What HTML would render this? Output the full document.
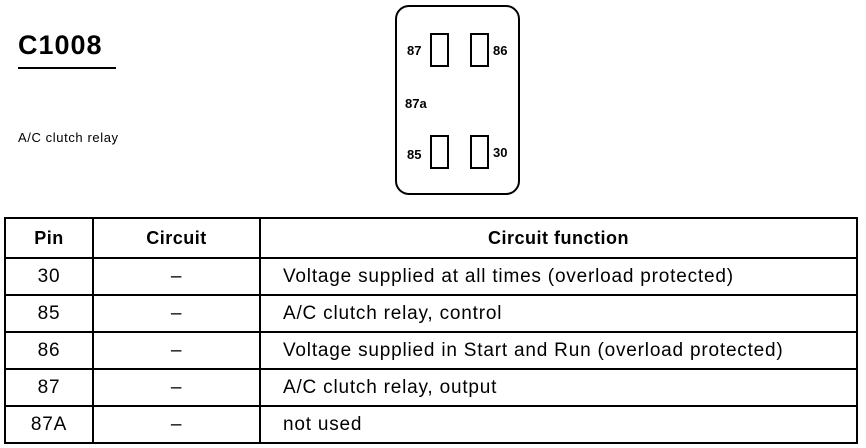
<!DOCTYPE html>
<html><head><style>
body{margin:0;width:866px;height:448px;background:#fff;position:relative;font-family:"Liberation Sans",sans-serif;color:#000;overflow:hidden}
.a{position:absolute}
table{position:absolute;left:4px;top:217px;border-collapse:collapse;width:854px}
td{border:2px solid #000;height:35px;font-size:19px;letter-spacing:0.8px;padding:0;text-align:center}
td.f{text-align:left;padding-left:22px}
th{border:2px solid #000;height:36px;font-size:18px;font-weight:bold;letter-spacing:0.5px}
.t{position:absolute;width:15px;height:30px;border:2px solid #000;}
.l{position:absolute;font-size:13px;font-weight:bold}
</style></head><body>
<div class="a" style="left:18px;top:30px;font-size:27px;font-weight:bold;letter-spacing:1px">C1008</div>
<div class="a" style="left:18px;top:67px;width:98px;height:2px;background:#000"></div>
<div class="a" style="left:18px;top:130px;font-size:13px;letter-spacing:0.6px">A/C clutch relay</div>
<div class="a" style="left:395px;top:5px;width:121px;height:186px;border:2px solid #000;border-radius:14px"></div>
<div class="t" style="left:430px;top:33px"></div>
<div class="t" style="left:470px;top:33px"></div>
<div class="t" style="left:430px;top:135px"></div>
<div class="t" style="left:470px;top:135px"></div>
<div class="l" style="left:407px;top:43px">87</div>
<div class="l" style="left:493px;top:43px">86</div>
<div class="l" style="left:405px;top:96px">87a</div>
<div class="l" style="left:407px;top:147px">85</div>
<div class="l" style="left:493px;top:145px">30</div>
<table>
<tr><th style="width:84px">Pin</th><th style="width:163px">Circuit</th><th>Circuit function</th></tr>
<tr><td>30</td><td>–</td><td class="f">Voltage supplied at all times (overload protected)</td></tr>
<tr><td>85</td><td>–</td><td class="f">A/C clutch relay, control</td></tr>
<tr><td>86</td><td>–</td><td class="f">Voltage supplied in Start and Run (overload protected)</td></tr>
<tr><td>87</td><td>–</td><td class="f">A/C clutch relay, output</td></tr>
<tr><td>87A</td><td>–</td><td class="f">not used</td></tr>
</table>
</body></html>
